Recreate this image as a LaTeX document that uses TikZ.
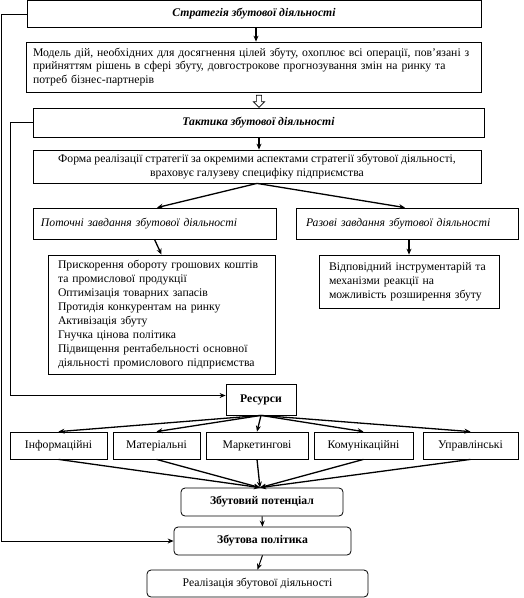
\documentclass[tikz,border=0pt]{standalone}
\usepackage{fontspec}
\setmainfont{Liberation Serif}
\usetikzlibrary{arrows.meta,shapes.arrows}
\begin{document}
\begin{tikzpicture}[x=1pt,y=-1pt,
  box/.style={draw,line width=0.8pt,inner sep=0pt,font=\fontsize{11.7}{13.5}\selectfont},
  rbox/.style={box,rounded corners=4pt},
  arr/.style={line width=1.3pt,-{Stealth[length=6pt,width=5pt]}},
  thin arr/.style={line width=1pt,-{Stealth[length=6pt,width=5pt]}}]
\useasboundingbox (0,0) rectangle (523,598);

\node[box,minimum width=454,minimum height=27] (strat) at (254,14) {\textbf{\textit{Стратегія збутової діяльності}}};
\node[box,minimum width=455,minimum height=50,text width=441,inner xsep=7,align=left] (model) at (253.5,67)
 {Модель дій, необхідних для досягнення цілей збуту, охоплює всі операції, пов’язані з\\прийняттям рішень в сфері збуту, довгострокове прогнозування змін на ринку та\\потреб бізнес-партнерів};
\node[draw,line width=0.7pt,single arrow,shape border rotate=270,minimum height=12,minimum width=11,single arrow head extend=2pt,inner sep=1.5pt,fill=white] (harr) at (259,100) {};
\node[box,minimum width=451,minimum height=29] (tact) at (258.5,122.5) {\textbf{\textit{Тактика збутової діяльності}}};
\node[box,minimum width=448,minimum height=33,align=center] (form) at (257,166.5)
 {Форма реалізації стратегії за окремими аспектами стратегії збутової діяльності,\\враховує галузеву специфіку підприємства};
\node[box,minimum width=243,minimum height=31,text width=227,inner xsep=8,align=left] (cur) at (154.5,223.5) {\textit{Поточні завдання збутової діяльності}};
\node[box,minimum width=222,minimum height=31,text width=202,inner xsep=10,align=left] (once) at (407,223.5) {\textit{Разові завдання збутової діяльності}};
\node[box,font=\fontsize{11.7}{14}\selectfont,minimum width=227,minimum height=119,text width=207,inner xsep=10,align=left] (list) at (161.5,314.5)
 {Прискорення обороту грошових коштів\\та промислової продукції\\Оптимізація товарних запасів\\Протидія конкурентам на ринку\\Активізація збуту\\Гнучка цінова політика\\Підвищення рентабельності основної\\діяльності промислового підприємства};
\node[box,font=\fontsize{11.7}{14}\selectfont,minimum width=180,minimum height=53,text width=160,inner xsep=10,align=left] (instr) at (409,281.5)
 {Відповідний інструментарій та\\механізми реакції на\\можливість розширення збуту};
\node[box,minimum width=70,minimum height=31] (res) at (261,399.5) {\textbf{Ресурси}};

\node[box,minimum width=97,minimum height=27] (r1) at (58.5,445.5) {Інформаційні};
\node[box,minimum width=87,minimum height=27] (r2) at (156.5,445.5) {Матеріальні};
\node[box,minimum width=102,minimum height=27] (r3) at (257,445.5) {Маркетингові};
\node[box,minimum width=99,minimum height=27] (r4) at (363.5,445.5) {Комунікаційні};
\node[box,minimum width=95,minimum height=27] (r5) at (470.5,445.5) {Управлінські};

\node[rbox,minimum width=162,minimum height=28] (pot) at (262,502) {\textbf{Збутовий потенціал}};
\node[rbox,minimum width=177,minimum height=28] (pol) at (262.5,541) {\textbf{Збутова політика}};
\node[rbox,minimum width=221,minimum height=27] (real) at (257.5,583.5) {Реалізація збутової діяльності};

\draw[arr] (strat.south -| 256,0) -- (model.north -| 256,0);
\draw[arr] (tact.south -| 259,0) -- (form.north -| 259,0);
\draw[arr] (form.south) -- ([xshift=2.5]cur.north);
\draw[arr] (form.south) -- ([xshift=-2]once.north);
\draw[arr] (cur.south) -- (list.north);
\draw[arr] (once.south -| 409,0) -- (instr.north);
\draw[thin arr] (strat.west) -- ++(-25,0) |- (pol.west);
\draw[thin arr] (tact.west) -- ++(-22,0) |- ([yshift=4]res.west);
\foreach \r in {r1,r2,r3,r4,r5} {
  \draw[arr] (res.south) -- (\r.north);
  \draw[arr] (\r.south) -- ([xshift=-2]pot.north);
}
\draw[thin arr] (pot.south) -- (pol.north);
\draw[thin arr] (pol.south) -- (real.north);
\end{tikzpicture}
\end{document}
